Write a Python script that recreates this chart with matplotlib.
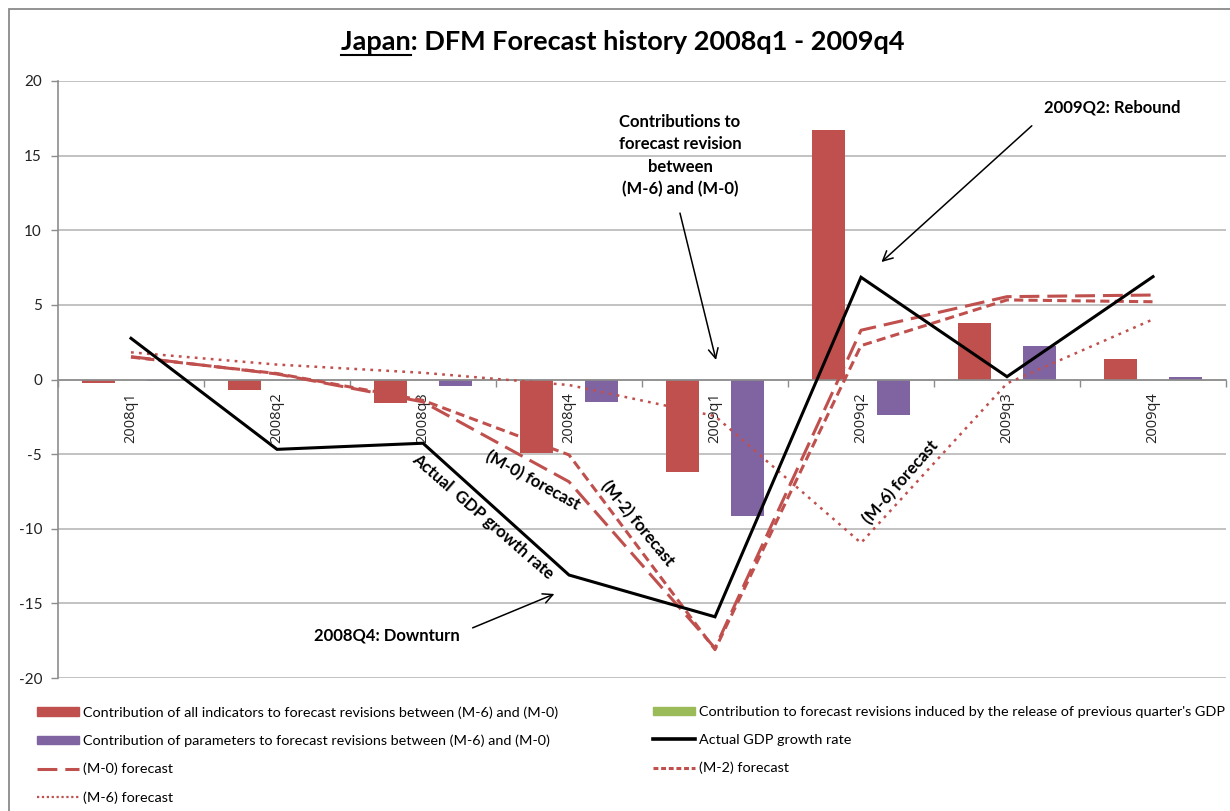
import matplotlib
matplotlib.use("Agg")
import matplotlib.pyplot as plt
import numpy as np
from matplotlib.patches import Rectangle, Patch
from matplotlib.lines import Line2D

# ---- data -------------------------------------------------------------
quarters = ["2008q1", "2008q2", "2008q3", "2008q4",
            "2009q1", "2009q2", "2009q3", "2009q4"]
indicators = [-0.22, -0.70, -1.55, -4.90, -6.17, 16.75, 3.77, 1.37]
gdp_release = [0, 0, 0, 0, 0, 0, 0, 0]
parameters = [-0.08, 0.0, -0.44, -1.53, -9.12, -2.38, 2.24, 0.15]
actual_gdp = [2.76, -4.68, -4.27, -13.10, -15.90, 6.85, 0.19, 6.89]
fc_m0 = [1.53, 0.37, -1.50, -6.85, -18.00, 3.30, 5.55, 5.66]
fc_m2 = [1.50, 0.40, -1.40, -5.05, -18.10, 2.27, 5.33, 5.21]
fc_m6 = [1.82, 1.00, 0.45, -0.37, -2.45, -10.95, -0.26, 4.03]
y_ticks = [-20, -15, -10, -5, 0, 5, 10, 15, 20]

labels_left = [
    "Contribution of all indicators to forecast revisions between (M-6) and (M-0)",
    "Contribution of parameters to forecast revisions between (M-6) and (M-0)",
    "(M-0) forecast",
    "(M-6) forecast",
]
labels_right = [
    "Contribution to forecast revisions induced by the release of previous quarter's GDP",
    "Actual GDP growth rate",
    "(M-2) forecast",
]

# ---- style ------------------------------------------------------------
RED = "#C0504D"
GREEN = "#9BBB59"
PURPLE = "#8064A2"
GRID = "#B8B8B8"
AXIS = "#8C8C8C"
FONT = ["Lato", "DejaVu Sans"]

W, H = 1230, 811
fig = plt.figure(figsize=(W / 100, H / 100), dpi=100)

# chart-area frame
fig.patches.append(Rectangle((9 / W, -0.05), 1.2, 1 - 9 / H + 0.05,
                             transform=fig.transFigure, fill=False,
                             edgecolor="#8A8A8A", lw=1.3, zorder=0))

ax = fig.add_axes([58 / W, 1 - 678 / H, (1226 - 58) / W, (678 - 81) / H])
ax.set_facecolor("none")

x = np.arange(len(quarters))
bw = 0.226
ax.bar(x - bw, indicators, bw, color=RED, zorder=2)
ax.bar(x, gdp_release, bw, color=GREEN, zorder=2)
ax.bar(x + bw, parameters, bw, color=PURPLE, zorder=2)

ax.plot(x, actual_gdp, color="black", lw=2.2, zorder=5, solid_joinstyle="miter")
ax.plot(x, fc_m0, color=RED, lw=2.2, dashes=(6.5, 2.6), zorder=4)
ax.plot(x, fc_m2, color=RED, lw=2.2, dashes=(3.0, 1.7), zorder=4)
ax.plot(x, fc_m6, color=RED, lw=1.8, dashes=(1.1, 2.1), zorder=4)

ax.set_xlim(-0.5, len(quarters) - 0.5)
ax.set_ylim(-20, 20)
ax.set_yticks(y_ticks)
ax.set_yticklabels([str(v) for v in y_ticks], family=FONT, fontsize=11,
                   color="#222222")
ax.tick_params(axis="y", direction="out", length=5, width=1, color=AXIS,
               pad=6.5)
ax.yaxis.grid(True, color=GRID, lw=1.2, zorder=0)
ax.set_axisbelow(True)

for s in ("top", "right"):
    ax.spines[s].set_visible(False)
ax.spines["left"].set_color(AXIS)
ax.spines["left"].set_linewidth(1.2)
ax.spines["bottom"].set_position(("data", 0))
ax.spines["bottom"].set_color(AXIS)
ax.spines["bottom"].set_linewidth(1.2)

ax.set_xticks(x)
ax.set_xticklabels(quarters, rotation=90, family=["Open Sans", "DejaVu Sans"],
                   fontsize=10.5, color="#222222")
ax.set_xticks(np.arange(len(quarters) + 1) - 0.5, minor=True)
ax.tick_params(axis="x", which="major", length=0, pad=9.5)
ax.tick_params(axis="x", which="minor", direction="out", length=5, width=1,
               color=AXIS)

# ---- annotations ------------------------------------------------------
bold_kw = dict(family=FONT, fontweight="bold", fontsize=12, color="black")
arrow_kw = dict(arrowstyle="->,head_length=0.7,head_width=0.35", lw=1.1,
                color="black", shrinkA=0, shrinkB=0)

ax.text(3.76, 15.0, "Contributions to\nforecast revision\nbetween\n(M-6) and (M-0)",
        ha="center", va="center", linespacing=1.5, zorder=6, **bold_kw)
ax.annotate("", xy=(4.007, 1.31), xytext=(3.76, 11.15), arrowprops=arrow_kw)

ax.text(6.72, 18.25, "2009Q2: Rebound", ha="center", va="center", **bold_kw)
ax.annotate("", xy=(5.14, 7.87), xytext=(6.17, 17.0), arrowprops=arrow_kw)

ax.text(1.75, -17.18, "2008Q4: Downturn", ha="center", va="center", **bold_kw)
ax.annotate("", xy=(2.90, -14.37), xytext=(2.34, -16.64), arrowprops=arrow_kw)

ax.text(2.41, -9.2, "Actual  GDP growth rate", rotation=-41,
        rotation_mode="anchor", ha="center", va="center", **bold_kw)
ax.text(2.75, -6.74, "(M-0) forecast", rotation=-29,
        rotation_mode="anchor", ha="center", va="center", **bold_kw)
ax.text(3.47, -9.68, "(M-2) forecast", rotation=-50.5,
        rotation_mode="anchor", ha="center", va="center", **bold_kw)
ax.text(5.27, -6.87, "(M-6) forecast", rotation=48.7,
        rotation_mode="anchor", ha="center", va="center", **bold_kw)

# ---- legend (two columns) ---------------------------------------------
h_m0 = Line2D([], [], color=RED, lw=2.2, dashes=(6.5, 2.6))
h_m2 = Line2D([], [], color=RED, lw=2.2, dashes=(1.6, 0.9))
h_m6 = Line2D([], [], color=RED, lw=1.6, dashes=(1.0, 1.2))
h_act = Line2D([], [], color="black", lw=2.6)
leg_kw = dict(loc="upper left", frameon=False, prop=dict(family=FONT, size=10.4),
              handlelength=2.9, handleheight=0.55, handletextpad=0.3,
              labelspacing=1.1, borderpad=0, borderaxespad=0)
fig.legend([Patch(color=RED), Patch(color=PURPLE), h_m0, h_m6], labels_left,
           bbox_to_anchor=(37 / W, 1 - 706 / H), **leg_kw)
fig.legend([Patch(color=GREEN), h_act, h_m2], labels_right,
           bbox_to_anchor=(653 / W, 1 - 706 / H), **leg_kw)

# ---- title with underlined country name --------------------------------
title_kw = dict(family=FONT, fontweight="bold", fontsize=19.5, color="black")
t = fig.text(623 / W, 1 - 42 / H, "Japan: DFM Forecast history 2008q1 - 2009q4",
             ha="center", va="center", **title_kw)
fig.canvas.draw()
renderer = fig.canvas.get_renderer()
tb = t.get_window_extent(renderer)
probe = fig.text(tb.x0 / W, t.get_position()[1], "Japan", ha="left",
                 va="center", alpha=0, **title_kw)
pb = probe.get_window_extent(renderer)
uy = (tb.y0 - 1) / H
fig.add_artist(Line2D([pb.x0 / W, pb.x1 / W], [uy, uy],
                      transform=fig.transFigure, color="black", lw=1.5))

fig.savefig("out.png", dpi=100)
